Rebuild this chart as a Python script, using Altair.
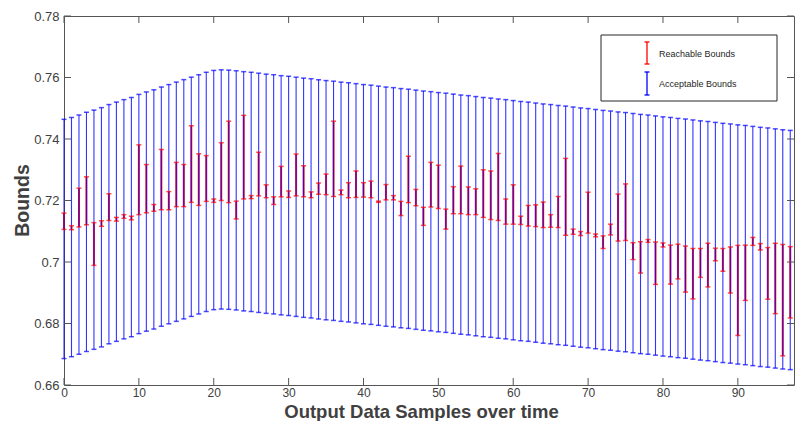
import altair as alt
import pandas as pd

samples = list(range(98))

acc_hi = [0.7464, 0.7470, 0.7478, 0.7487, 0.7494, 0.7502, 0.7512, 0.7520, 0.7528, 0.7535,
          0.7545, 0.7553, 0.7560, 0.7569, 0.7577, 0.7585, 0.7593, 0.7601, 0.7609, 0.7617,
          0.7623, 0.7625, 0.7624, 0.7622, 0.7619, 0.7617, 0.7614, 0.7611, 0.7609, 0.7606,
          0.7604, 0.7601, 0.7598, 0.7596, 0.7593, 0.7590, 0.7588, 0.7585, 0.7583, 0.7580,
          0.7577, 0.7575, 0.7572, 0.7569, 0.7567, 0.7564, 0.7562, 0.7559, 0.7556, 0.7554,
          0.7551, 0.7549, 0.7546, 0.7543, 0.7541, 0.7538, 0.7535, 0.7533, 0.7530, 0.7528,
          0.7525, 0.7522, 0.7520, 0.7517, 0.7514, 0.7512, 0.7509, 0.7507, 0.7504, 0.7501,
          0.7499, 0.7496, 0.7493, 0.7491, 0.7488, 0.7486, 0.7483, 0.7480, 0.7478, 0.7475,
          0.7472, 0.7470, 0.7467, 0.7465, 0.7462, 0.7459, 0.7457, 0.7454, 0.7451, 0.7449,
          0.7446, 0.7444, 0.7441, 0.7438, 0.7436, 0.7433, 0.7430, 0.7428]

acc_lo = [0.6686, 0.6692, 0.6700, 0.6709, 0.6716, 0.6724, 0.6734, 0.6742, 0.6750, 0.6757,
          0.6767, 0.6775, 0.6782, 0.6791, 0.6799, 0.6807, 0.6815, 0.6823, 0.6831, 0.6839,
          0.6845, 0.6847, 0.6846, 0.6844, 0.6841, 0.6839, 0.6836, 0.6833, 0.6831, 0.6828,
          0.6826, 0.6823, 0.6820, 0.6818, 0.6815, 0.6812, 0.6810, 0.6807, 0.6805, 0.6802,
          0.6799, 0.6797, 0.6794, 0.6791, 0.6789, 0.6786, 0.6784, 0.6781, 0.6778, 0.6776,
          0.6773, 0.6771, 0.6768, 0.6765, 0.6763, 0.6760, 0.6757, 0.6755, 0.6752, 0.6750,
          0.6747, 0.6744, 0.6742, 0.6739, 0.6736, 0.6734, 0.6731, 0.6729, 0.6726, 0.6723,
          0.6721, 0.6718, 0.6715, 0.6713, 0.6710, 0.6708, 0.6705, 0.6702, 0.6700, 0.6697,
          0.6694, 0.6692, 0.6689, 0.6687, 0.6684, 0.6681, 0.6679, 0.6676, 0.6673, 0.6671,
          0.6668, 0.6666, 0.6663, 0.6660, 0.6658, 0.6655, 0.6652, 0.6650]

reach_hi = [0.7159, 0.7118, 0.7240, 0.7277, 0.7128, 0.7134, 0.7222, 0.7145, 0.7154, 0.7149,
            0.7381, 0.7317, 0.7187, 0.7366, 0.7229, 0.7324, 0.7317, 0.7443, 0.7352, 0.7346,
            0.7205, 0.7388, 0.7458, 0.7198, 0.7477, 0.7216, 0.7357, 0.7251, 0.7212, 0.7311,
            0.7231, 0.7351, 0.7313, 0.7228, 0.7257, 0.7286, 0.7458, 0.7234, 0.7258, 0.7296,
            0.7258, 0.7263, 0.7198, 0.7252, 0.7216, 0.7197, 0.7344, 0.7236, 0.7178, 0.7324,
            0.7315, 0.7172, 0.7245, 0.7312, 0.7244, 0.7238, 0.7300, 0.7296, 0.7353, 0.7205,
            0.7251, 0.7149, 0.7184, 0.7186, 0.7195, 0.7154, 0.7213, 0.7337, 0.7107, 0.7099,
            0.7227, 0.7091, 0.7085, 0.7123, 0.7221, 0.7254, 0.7063, 0.7066, 0.7073, 0.7065,
            0.7062, 0.7055, 0.7058, 0.7052, 0.7044, 0.7044, 0.7061, 0.7045, 0.7044, 0.7049,
            0.7054, 0.7055, 0.7080, 0.7060, 0.7047, 0.7061, 0.7057, 0.7050]

reach_lo = [0.7106, 0.7105, 0.7114, 0.7121, 0.6989, 0.7116, 0.7135, 0.7133, 0.7142, 0.7137,
            0.7154, 0.7160, 0.7165, 0.7170, 0.7170, 0.7180, 0.7180, 0.7194, 0.7184, 0.7197,
            0.7194, 0.7200, 0.7193, 0.7140, 0.7205, 0.7206, 0.7215, 0.7209, 0.7187, 0.7212,
            0.7210, 0.7215, 0.7212, 0.7209, 0.7220, 0.7219, 0.7213, 0.7219, 0.7209, 0.7210,
            0.7211, 0.7209, 0.7194, 0.7202, 0.7202, 0.7151, 0.7193, 0.7183, 0.7119, 0.7179,
            0.7174, 0.7107, 0.7157, 0.7157, 0.7154, 0.7154, 0.7145, 0.7138, 0.7135, 0.7123,
            0.7123, 0.7122, 0.7117, 0.7115, 0.7112, 0.7113, 0.7112, 0.7087, 0.7090, 0.7086,
            0.7094, 0.7082, 0.7044, 0.7088, 0.7068, 0.7070, 0.7008, 0.6964, 0.7064, 0.6927,
            0.7049, 0.6928, 0.6945, 0.6902, 0.6880, 0.6950, 0.6919, 0.7004, 0.6970, 0.6899,
            0.6761, 0.6875, 0.7054, 0.7039, 0.6879, 0.6832, 0.6695, 0.6818]

x_ticks = [0, 10, 20, 30, 40, 50, 60, 70, 80, 90]
y_ticks = [0.66, 0.68, 0.70, 0.72, 0.74, 0.76, 0.78]
legend_labels = ["Reachable Bounds", "Acceptable Bounds"]

df = pd.DataFrame({"x": samples, "acc_hi": acc_hi, "acc_lo": acc_lo,
                   "r_hi": reach_hi, "r_lo": reach_lo})

W, H = 730, 369
FONT = "Liberation Sans"
AX = "#555555"
TXT = "#404040"

xs = alt.Scale(domain=[0, 97.5], nice=False, zero=False)
ys = alt.Scale(domain=[0.66, 0.78], nice=False, zero=False)

x_axis = alt.Axis(values=x_ticks, title="Output Data Samples over time", grid=False,
                  domain=False, ticks=False, tickSize=0, labelFlush=False,
                  labelFontSize=12, labelColor=TXT, labelPadding=2, labelFont=FONT,
                  titleFont=FONT, titleFontSize=18.5, titleFontWeight="bold", titleColor=TXT,
                  titleX=357, titleY=32, titleBaseline="alphabetic", titleAlign="center")
y_axis = alt.Axis(values=y_ticks, format=".2~f", title="Bounds", grid=False,
                  domain=False, ticks=False, tickSize=0,
                  labelFontSize=13, labelColor=TXT, labelPadding=5, labelFont=FONT,
                  titleFont=FONT, titleFontSize=19.5, titleFontWeight="bold", titleColor=TXT,
                  titleX=-36, titleY=184, titleAngle=270, titleBaseline="alphabetic",
                  titleAlign="center")


def X(field):
    return alt.X(field, scale=xs, axis=x_axis)


def Y(field):
    return alt.Y(field, scale=ys, axis=y_axis)


base = alt.Chart(df)

red_rules = base.mark_rule(color="#ff0000", strokeWidth=2, opacity=0.9).encode(
    x=X("x:Q"), y=Y("r_lo:Q"), y2="r_hi:Q")

blue_rules = base.mark_rule(color="#0000ff", strokeWidth=1.1, opacity=0.8).encode(
    x=X("x:Q"), y=Y("acc_lo:Q"), y2="acc_hi:Q")

cap = dict(orient="horizontal", size=5, thickness=1.5)
blue_cap_hi = base.mark_tick(color="#0000ff", **cap).encode(x=X("x:Q"), y=Y("acc_hi:Q"))
blue_cap_lo = base.mark_tick(color="#0000ff", **cap).encode(x=X("x:Q"), y=Y("acc_lo:Q"))
red_cap_hi = base.mark_tick(color="#ff0000", **cap).encode(x=X("x:Q"), y=Y("r_hi:Q"))
red_cap_lo = base.mark_tick(color="#ff0000", **cap).encode(x=X("x:Q"), y=Y("r_lo:Q"))

# inward tick marks (MATLAB box style)
xt = alt.Chart(pd.DataFrame({"x": x_ticks}))
yt = alt.Chart(pd.DataFrame({"y": y_ticks}))
tick_style = dict(color=AX, strokeWidth=1)
xt_bottom = xt.mark_rule(**tick_style).encode(
    x=X("x:Q"), y=alt.value(H - 7), y2=alt.value(H))
xt_top = xt.mark_rule(**tick_style).encode(
    x=X("x:Q"), y=alt.value(0), y2=alt.value(7))
yt_left = yt.mark_rule(**tick_style).encode(
    y=Y("y:Q"), x=alt.value(0), x2=alt.value(7))
yt_right = yt.mark_rule(**tick_style).encode(
    y=Y("y:Q"), x=alt.value(W - 7), x2=alt.value(W))

# legend box
one = alt.Chart(pd.DataFrame({"a": [0]}))
LX = 537
leg_box = one.mark_rect(fill="white", stroke="#262626", strokeWidth=1).encode(
    x=alt.value(LX), x2=alt.value(LX + 176), y=alt.value(19), y2=alt.value(85))


def icon(color, y0, y1):
    s = dict(color=color, strokeWidth=1.3)
    cx = LX + 46
    return [
        one.mark_rule(**s).encode(x=alt.value(cx), y=alt.value(y0), y2=alt.value(y1)),
        one.mark_rule(**s).encode(x=alt.value(cx - 2.5), x2=alt.value(cx + 2.5), y=alt.value(y0)),
        one.mark_rule(**s).encode(x=alt.value(cx - 2.5), x2=alt.value(cx + 2.5), y=alt.value(y1)),
    ]


leg_t1 = one.mark_text(align="left", baseline="middle", font=FONT, fontSize=9,
                       color="#262626").encode(
    x=alt.value(LX + 58), y=alt.value(38), text=alt.value(legend_labels[0]))
leg_t2 = one.mark_text(align="left", baseline="middle", font=FONT, fontSize=9,
                       color="#262626").encode(
    x=alt.value(LX + 58), y=alt.value(67.5), text=alt.value(legend_labels[1]))

chart = alt.layer(
    red_rules, blue_rules, blue_cap_hi, blue_cap_lo, red_cap_hi, red_cap_lo,
    xt_bottom, xt_top, yt_left, yt_right,
    leg_box, *icon("#ff0000", 26, 48), *icon("#0000ff", 56, 79),
    leg_t1, leg_t2
).properties(
    width=W, height=H,
    autosize=alt.AutoSizeParams(type="none"),
    padding={"left": 56, "top": 8, "right": 2, "bottom": 36},
    background="white"
).configure_view(stroke=AX, strokeWidth=1)

chart.save("out.html", embed_options={"renderer": "svg", "actions": False})
